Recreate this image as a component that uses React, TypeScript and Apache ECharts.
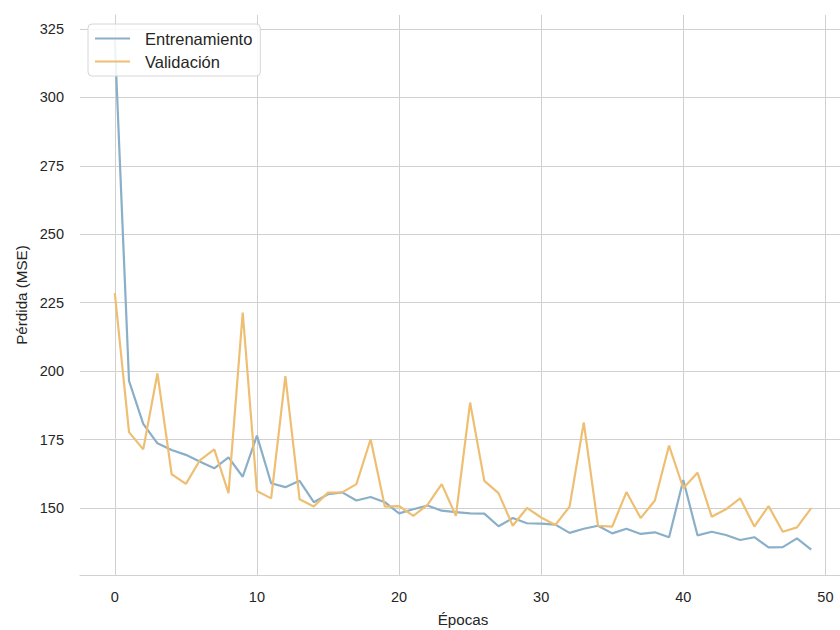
import React, { useEffect, useRef } from "react";
import * as echarts from "echarts";

// Epoch indices and loss curves (MSE) for training and validation
const epochs: number[] = Array.from({ length: 50 }, (_, i) => i);

const trainLoss: number[] = [
  320.8, 196.4, 180.7, 173.6, 171.2, 169.4, 166.9, 164.5, 168.5, 161.4,
  176.4, 159.0, 157.6, 159.9, 152.1, 155.0, 155.7, 152.7, 154.0, 152.1,
  148.0, 149.5, 150.9, 149.0, 148.5, 148.0, 147.9, 143.3, 146.3, 144.4,
  144.3, 143.9, 140.9, 142.4, 143.5, 140.7, 142.4, 140.5, 141.1, 139.3,
  160.2, 140.0, 141.3, 140.1, 138.3, 139.3, 135.6, 135.7, 138.9, 134.8,
];

const valLoss: number[] = [
  228.5, 177.7, 171.4, 199.2, 162.3, 158.8, 167.5, 171.4, 155.4, 221.4,
  156.2, 153.5, 198.2, 153.2, 150.5, 155.6, 155.7, 158.7, 175.1, 150.5,
  150.7, 147.1, 151.1, 158.7, 147.1, 188.5, 159.9, 155.4, 143.5, 150.0,
  146.5, 143.8, 150.5, 181.2, 143.5, 143.2, 155.8, 146.3, 152.7, 172.8,
  157.2, 162.9, 146.8, 149.5, 153.5, 143.2, 150.7, 141.3, 142.9, 149.9,
];

const xTicks: number[] = [0, 10, 20, 30, 40, 50];
const yTicks: number[] = [150, 175, 200, 225, 250, 275, 300, 325];

const seriesNames = ["Entrenamiento", "Validación"];
const seriesColors = ["#8aafc8", "#eebf73"];

const FONT = "'Liberation Sans', Arial, sans-serif";
const TEXT = "#262626";
const GRID = "#d0d0d0";

export default function App() {
  const ref = useRef<HTMLDivElement>(null);

  useEffect(() => {
    if (!ref.current) return;
    const chart = echarts.init(ref.current, undefined, { renderer: "svg" });

    // matplotlib-style 5% data margins on both axes
    const xMin = -2.45;
    const xMax = 51.45;
    const allY = trainLoss.concat(valLoss);
    const lo = Math.min(...allY);
    const hi = Math.max(...allY);
    const pad = (hi - lo) * 0.05;

    const makeData = (arr: number[]) => epochs.map((e, i) => [e, arr[i]]);

    chart.setOption({
      animation: false,
      backgroundColor: "#ffffff",
      textStyle: { fontFamily: FONT },
      grid: {
        left: 80,
        top: 15,
        right: 0,
        bottom: 55,
        containLabel: false,
        outerBoundsMode: "none",
        show: false,
      },
      legend: {
        orient: "vertical",
        left: 88,
        top: 24,
        padding: [6, 8, 6, 7],
        itemGap: 6,
        itemWidth: 35,
        itemHeight: 12,
        backgroundColor: "rgba(255,255,255,0.85)",
        borderColor: "#d6d6d6",
        borderWidth: 1,
        borderRadius: 4,
        textStyle: { fontSize: 16.5, color: TEXT, fontFamily: FONT, padding: [0, 0, 0, 10] },
        data: seriesNames.map((n, i) => ({
          name: n,
          icon: "path://M0,0 L35,0 L35,2 L0,2 Z",
          itemStyle: { color: seriesColors[i] },
        })),
      },
      xAxis: {
        type: "value",
        min: xMin,
        max: xMax,
        name: "Épocas",
        nameLocation: "middle",
        nameGap: 37,
        nameTextStyle: { fontSize: 15.2, color: TEXT, fontFamily: FONT },
        axisLine: { show: true, lineStyle: { color: GRID, width: 1 } },
        axisTick: { show: false, customValues: xTicks },
        axisLabel: { customValues: xTicks, fontSize: 14.5, color: TEXT, margin: 14, fontFamily: FONT },
        splitLine: { show: true, lineStyle: { color: GRID, width: 1 } },
      },
      yAxis: {
        type: "value",
        min: lo - pad,
        max: hi + pad,
        name: "Pérdida (MSE)",
        nameLocation: "middle",
        nameGap: 45,
        nameTextStyle: { fontSize: 15.2, color: TEXT, fontFamily: FONT },
        axisLine: { show: true, lineStyle: { color: GRID, width: 1 } },
        axisTick: { show: false, customValues: yTicks },
        axisLabel: { customValues: yTicks, fontSize: 14.5, color: TEXT, margin: 16, fontFamily: FONT },
        splitLine: { show: true, lineStyle: { color: GRID, width: 1 } },
      },
      series: [
        {
          name: seriesNames[0],
          type: "line",
          data: makeData(trainLoss),
          symbol: "none",
          lineStyle: { color: seriesColors[0], width: 2.2 },
          itemStyle: { color: seriesColors[0] },
          z: 2,
        },
        {
          name: seriesNames[1],
          type: "line",
          data: makeData(valLoss),
          symbol: "none",
          lineStyle: { color: seriesColors[1], width: 2.2 },
          itemStyle: { color: seriesColors[1] },
          z: 3,
        },
      ],
    });

    return () => chart.dispose();
  }, []);

  // The plot frame runs a few pixels past the right edge of the visible area
  return (
    <div style={{ width: 840, height: 630, position: "absolute", left: 0, top: 0, overflow: "hidden" }}>
      <div ref={ref} style={{ width: 846, height: 630 }} />
    </div>
  );
}
